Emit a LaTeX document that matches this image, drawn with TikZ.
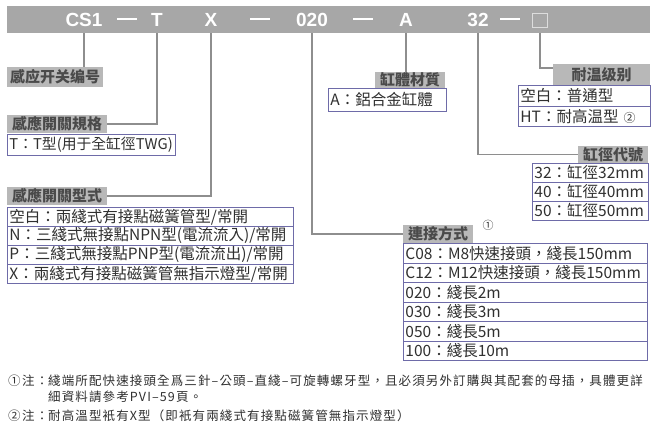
\documentclass[tikz,border=0pt]{standalone}
\usepackage{fontspec}
\setmainfont{Noto Sans CJK TC}
\newfontfamily\hv{Liberation Sans}
\newfontfamily\notefont{Noto Sans CJK TC}[LetterSpace=9]
\usetikzlibrary{calc}
\definecolor{barc}{HTML}{A7A7A7}
\definecolor{hdrc}{HTML}{B8B8B8}
\definecolor{rowc}{HTML}{6E6BA8}
\definecolor{linec}{HTML}{8E8E8E}
\definecolor{txtc}{HTML}{303030}
\definecolor{hdrt}{HTML}{4A4A4A}
\definecolor{boxc}{HTML}{DDDDDD}
\newcommand{\barDash}{\rule{20pt}{1.6pt}}
\begin{document}
\begin{tikzpicture}[x=1pt,y=-1pt,
  code/.style={font=\hv\bfseries\fontsize{19}{19}\selectfont, text=white, inner sep=0pt, anchor=base},
  dashc/.style={text=white, inner sep=0pt},
  hdr/.style={fill=hdrc, text=hdrt, font=\bfseries\fontsize{15}{15}\selectfont, inner sep=0pt, anchor=north west},
  row/.style={draw=rowc, line width=0.9pt, fill=white, text=txtc, font=\fontsize{15.5}{15.5}\selectfont, inner xsep=2pt, inner ysep=0pt, anchor=north west, align=left},
  conn/.style={draw=linec, line width=1.5pt},
  note/.style={text=txtc, font=\notefont\fontsize{12.5}{12.5}\selectfont, inner sep=0pt, anchor=west}]
\useasboundingbox[fill=white] (0,0) rectangle (658,428);
% code bar
\node[fill=barc, minimum width=643pt, minimum height=27pt, inner sep=0pt, anchor=north west] (bar) at (7,6) {};
\node[code] (cs) at (84,26.5) {CS1};
\node[dashc] (d1) at (127,19) {\barDash};
\node[code] (t) at (157,26.5) {T};
\node[code] (x) at (211,26.5) {X};
\node[dashc] (d2) at (260,19) {\barDash};
\node[code] (len) at (312,26.5) {020};
\node[dashc] (d3) at (363,19) {\barDash};
\node[code] (a) at (406,26.5) {A};
\node[code] (bore) at (478,26.5) {32};
\node[dashc] (d4) at (510,19) {\barDash};
\node[draw=boxc, line width=0.8pt, minimum width=15pt, minimum height=14pt, inner sep=0pt] (temp) at (540,20) {};
% headings
\node[hdr, minimum width=96pt, minimum height=20pt] (h1) at (7,67) {感应开关编号};
\node[hdr, minimum width=100pt, minimum height=18pt] (h2) at (7,115) {感應開關規格};
\node[hdr, minimum width=100pt, minimum height=18pt] (h3) at (7,187) {感應開關型式};
\node[hdr, minimum width=70pt, minimum height=18pt] (h4) at (403,225) {連接方式};
\node[hdr, minimum width=70pt, minimum height=16pt] (h5) at (375,72) {缸體材質};
\node[hdr, minimum width=70pt, minimum height=17pt] (h6) at (578,146) {缸徑代號};
\node[hdr, minimum width=97pt, minimum height=21pt] (h7) at (553,64) {耐温级别};
% rows
\node[row, text width=164pt, minimum height=21pt, font=\fontsize{14.8}{14.8}\selectfont] (r2) at (7,134) {T：T型(用于全缸徑TWG)};
\node[row, text width=282pt, minimum height=19pt] (r3a) at (7,207) {空白：兩綫式有接點磁簧管型/常開};
\node[row, text width=282pt, minimum height=19pt] (r3b) at (7,226) {N：三綫式無接點NPN型(電流流入)/常開};
\node[row, text width=282pt, minimum height=19pt] (r3c) at (7,245) {P：三綫式無接點PNP型(電流流出)/常開};
\node[row, text width=282pt, minimum height=19pt] (r3d) at (7,264) {X：兩綫式有接點磁簧管無指示燈型/常開};
\node[row, text width=240pt, minimum height=19.5pt] (r4a) at (403,243) {C08：M8快速接頭，綫長150mm};
\node[row, text width=240pt, minimum height=19.5pt] (r4b) at (403,262.5) {C12：M12快速接頭，綫長150mm};
\node[row, text width=240pt, minimum height=19.5pt] (r4c) at (403,282) {020：綫長2m};
\node[row, text width=240pt, minimum height=19.5pt] (r4d) at (403,301.5) {030：綫長3m};
\node[row, text width=240pt, minimum height=19.5pt] (r4e) at (403,321) {050：綫長5m};
\node[row, text width=240pt, minimum height=19.5pt] (r4f) at (403,340.5) {100：綫長10m};
\node[row, text width=114pt, minimum height=23pt] (r5) at (328,88) {A：鋁合金缸體};
\node[row, text width=112pt, minimum height=19pt] (r6a) at (532,163) {32：缸徑32mm};
\node[row, text width=112pt, minimum height=19pt] (r6b) at (532,182) {40：缸徑40mm};
\node[row, text width=112pt, minimum height=19pt] (r6c) at (532,201) {50：缸徑50mm};
\node[row, text width=128pt, minimum height=20.5pt] (r7a) at (518,85) {空白：普通型};
\node[row, text width=128pt, minimum height=20.5pt] (r7b) at (518,105.5) {HT：耐高温型 {\fontsize{12}{12}\selectfont ②}};
\node[text=txtc, font=\fontsize{11}{11}\selectfont, inner sep=0pt] (c1) at (488,225) {①};
% connectors
\draw[conn] (bar.south -| cs) -- (h1.north -| cs);
\draw[conn] (bar.south -| t) |- (h2.east);
\draw[conn] (bar.south -| x) |- (h3.east);
\draw[conn] (bar.south -| len) |- (h4.west);
\draw[conn] (bar.south -| a) -- (h5.north -| a);
\draw[conn] (bar.south -| bore) |- (h6.west);
\draw[conn] (bar.south -| temp) |- ([yshift=-4pt]h7.north west);
% footnotes
\node[note] (m1) at (8,381) {①};
\node[note] (n1) at (22,381) {注：};
\node[note] (f1) at (48,381) {綫端所配快速接頭全爲三針–公頭–直綫–可旋轉螺牙型，且必須另外訂購與其配套的母插，具體更詳};
\node[note] (f1b) at (48,397) {細資料請參考PVI–59頁。};
\node[note] (m2) at (8,416) {②};
\node[note] (n2) at (22,416) {注：};
\node[note] (f2) at (48,416) {耐高溫型衹有X型（即衹有兩綫式有接點磁簧管無指示燈型）};
\end{tikzpicture}
\end{document}
